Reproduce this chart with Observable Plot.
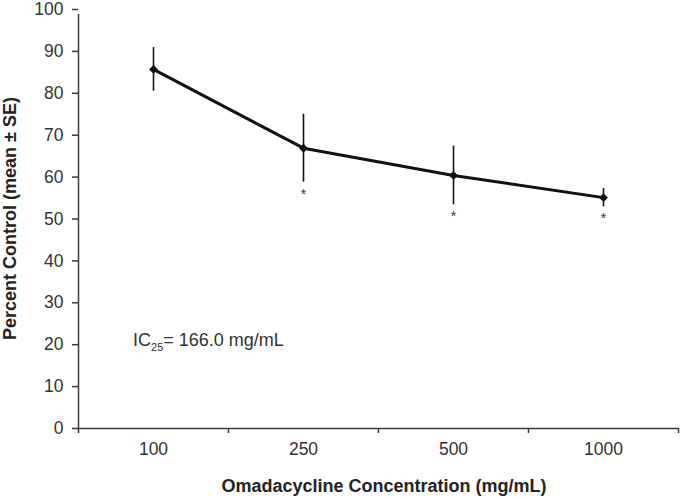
<!DOCTYPE html>
<html><head><meta charset="utf-8">
<script src="https://cdn.jsdelivr.net/npm/d3@7"></script>
<script src="https://cdn.jsdelivr.net/npm/@observablehq/plot@0.6"></script>
<style>
body{margin:0;background:#fff}
#chart svg{font-family:"Liberation Sans",Arial,sans-serif}
</style>
</head><body><div id="chart"></div>
<script>
const concentrations = ["100", "250", "500", "1000"];
const meanPct = [85.7, 66.9, 60.4, 55.1];
const sePct = [5.2, 8.1, 7.0, 2.2];
const significant = [false, true, true, true];
const yTicks = [0, 10, 20, 30, 40, 50, 60, 70, 80, 90, 100];
const xTitle = "Omadacycline Concentration (mg/mL)";
const yTitle = "Percent Control (mean ± SE)";
const icLabel = ["IC", "25", "= 166.0 mg/mL"];

const data = concentrations.map((c, i) => ({
  i, c, mean: meanPct[i], lo: meanPct[i] - sePct[i], hi: meanPct[i] + sePct[i], sig: significant[i]
}));
const idx = d3.range(concentrations.length);
const bounds = d3.range(concentrations.length + 1).map(i => i - 0.5);
const ink = "#111";
const axisInk = "#3a3a3a";

const chart = Plot.plot({
  width: 680, height: 498,
  marginLeft: 78, marginRight: 2, marginTop: 9, marginBottom: 70,
  style: {fontFamily: "'Liberation Sans', Arial, sans-serif", fontSize: "17px", color: "#333", background: "#fff"},
  x: {type: "linear", domain: [-0.5, concentrations.length - 0.5]},
  y: {domain: [0, 100]},
  marks: [
    Plot.axisY({ticks: yTicks, tickSize: 6, tickPadding: 9, label: null, stroke: axisInk, strokeWidth: 1.5, fontSize: 17, fill: "#333"}),
    Plot.axisX({ticks: bounds, tickSize: 5, tickFormat: () => "", label: null, stroke: axisInk, strokeWidth: 1.5}),
    Plot.axisX({ticks: idx, tickSize: 0, tickPadding: 14, tickFormat: i => concentrations[i], label: null, fontSize: 17, fill: "#333"}),
    Plot.ruleX([-0.5], {y1: 0, y2: 100, stroke: axisInk, strokeWidth: 1.5, insetBottom: -5}),
    Plot.ruleY([0], {stroke: axisInk, strokeWidth: 1.5}),
    Plot.ruleX(data, {x: "i", y1: "lo", y2: "hi", stroke: ink, strokeWidth: 1.6}),
    Plot.line(data, {x: "i", y: "mean", stroke: ink, strokeWidth: 3}),
    Plot.dot(data, {x: "i", y: "mean", symbol: "diamond2", r: 4, fill: ink, stroke: "none"}),
    Plot.text(data.filter(d => d.sig), {x: "i", y: "lo", text: () => "*", dy: 12, fontSize: 14, fill: "#333"})
  ]
});
document.getElementById("chart").appendChild(chart);

const svg = d3.select(chart);
svg.selectAll('g[aria-label="y-axis tick label"], g[aria-label="x-axis tick label"]')
  .attr("font-size", 17.5).style("font-size", "17.5px");
const sx = chart.scale("x"), sy = chart.scale("y");

svg.append("text")
  .attr("x", (sx.apply(-0.5) + sx.apply(3.5)) / 2 + 6).attr("y", 492)
  .attr("text-anchor", "middle").attr("font-size", 18).attr("font-weight", "bold").attr("fill", "#222")
  .text(xTitle);

svg.append("text")
  .attr("transform", `translate(16,${(sy.apply(0) + sy.apply(100)) / 2}) rotate(-90)`)
  .attr("text-anchor", "middle").attr("font-size", 18).attr("font-weight", "bold").attr("fill", "#222")
  .text(yTitle);

const ic = svg.append("text")
  .attr("x", sx.apply(-0.133)).attr("y", sy.apply(19.6))
  .attr("text-anchor", "start")
  .attr("font-size", 18).attr("fill", "#333");
ic.append("tspan").text(icLabel[0]);
ic.append("tspan").attr("font-size", 11).attr("dy", 5).text(icLabel[1]);
ic.append("tspan").attr("dy", -5).text(icLabel[2]);
</script>
</body></html>
